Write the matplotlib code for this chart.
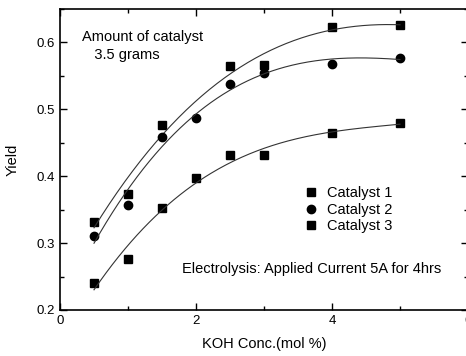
import numpy as np
import matplotlib
matplotlib.use("Agg")
import matplotlib.pyplot as plt
from matplotlib.ticker import MultipleLocator

plt.rcParams['font.family'] = ['Liberation Sans', 'DejaVu Sans']

x1 = [0.5, 1.0, 1.5, 2.5, 3.0, 4.0, 5.0]
y1 = [0.332, 0.374, 0.477, 0.565, 0.567, 0.623, 0.626]
x2 = [0.5, 1.0, 1.5, 2.0, 2.5, 3.0, 4.0, 5.0]
y2 = [0.310, 0.357, 0.458, 0.487, 0.538, 0.554, 0.568, 0.577]
x3 = [0.5, 1.0, 1.5, 2.0, 2.5, 3.0, 4.0, 5.0]
y3 = [0.240, 0.276, 0.353, 0.397, 0.431, 0.431, 0.465, 0.479]
labels = ["Catalyst 1", "Catalyst 2", "Catalyst 3"]

W, H = 466, 356
fig = plt.figure(figsize=(W/100, H/100), dpi=100)
ax = fig.add_axes([60/W, (H-310)/H, 408/W, 301/H])

series = [(x1, y1, 's', 5.2), (x2, y2, 'o', 6.0), (x3, y3, 's', 5.2)]
for (xs, ys, m, ms), lab in zip(series, labels):
    ax.plot(xs, ys, linestyle='none', marker=m, color='black', markersize=ms, label=lab)
    c = np.polyfit(xs, ys, 3)
    xf = np.linspace(min(xs), max(xs), 200)
    ax.plot(xf, np.polyval(c, xf), color='#333333', lw=0.8)

ax.set_xlim(0, 6)
ax.set_ylim(0.2, 0.65)
ax.xaxis.set_major_locator(MultipleLocator(2))
ax.xaxis.set_minor_locator(MultipleLocator(1))
ax.yaxis.set_major_locator(MultipleLocator(0.1))
ax.yaxis.set_minor_locator(MultipleLocator(0.05))
ax.tick_params(which='both', direction='in', top=True, right=True, labelsize=9.5, width=1)
ax.tick_params(which='major', length=5)
ax.tick_params(which='minor', length=3)
for s in ax.spines.values():
    s.set_linewidth(1.2)

ax.set_xlabel('KOH Conc.(mol %)', fontsize=10.5, labelpad=7)
ax.set_ylabel('Yield', fontsize=10.5, labelpad=12)

ax.text(0.33, 0.595, 'Amount of catalyst\n   3.5 grams', fontsize=10.5, va='center', ha='left', linespacing=1.4)
ax.text(1.80, 0.261, 'Electrolysis: Applied Current 5A for 4hrs', fontsize=10.5, va='center', ha='left')

ax.legend(loc='upper left', bbox_to_anchor=(0.575, 0.435), frameon=False, fontsize=10.5,
          handletextpad=0.5, labelspacing=0.16, handlelength=1.2, borderpad=0)

fig.savefig('out.png', dpi=100)
